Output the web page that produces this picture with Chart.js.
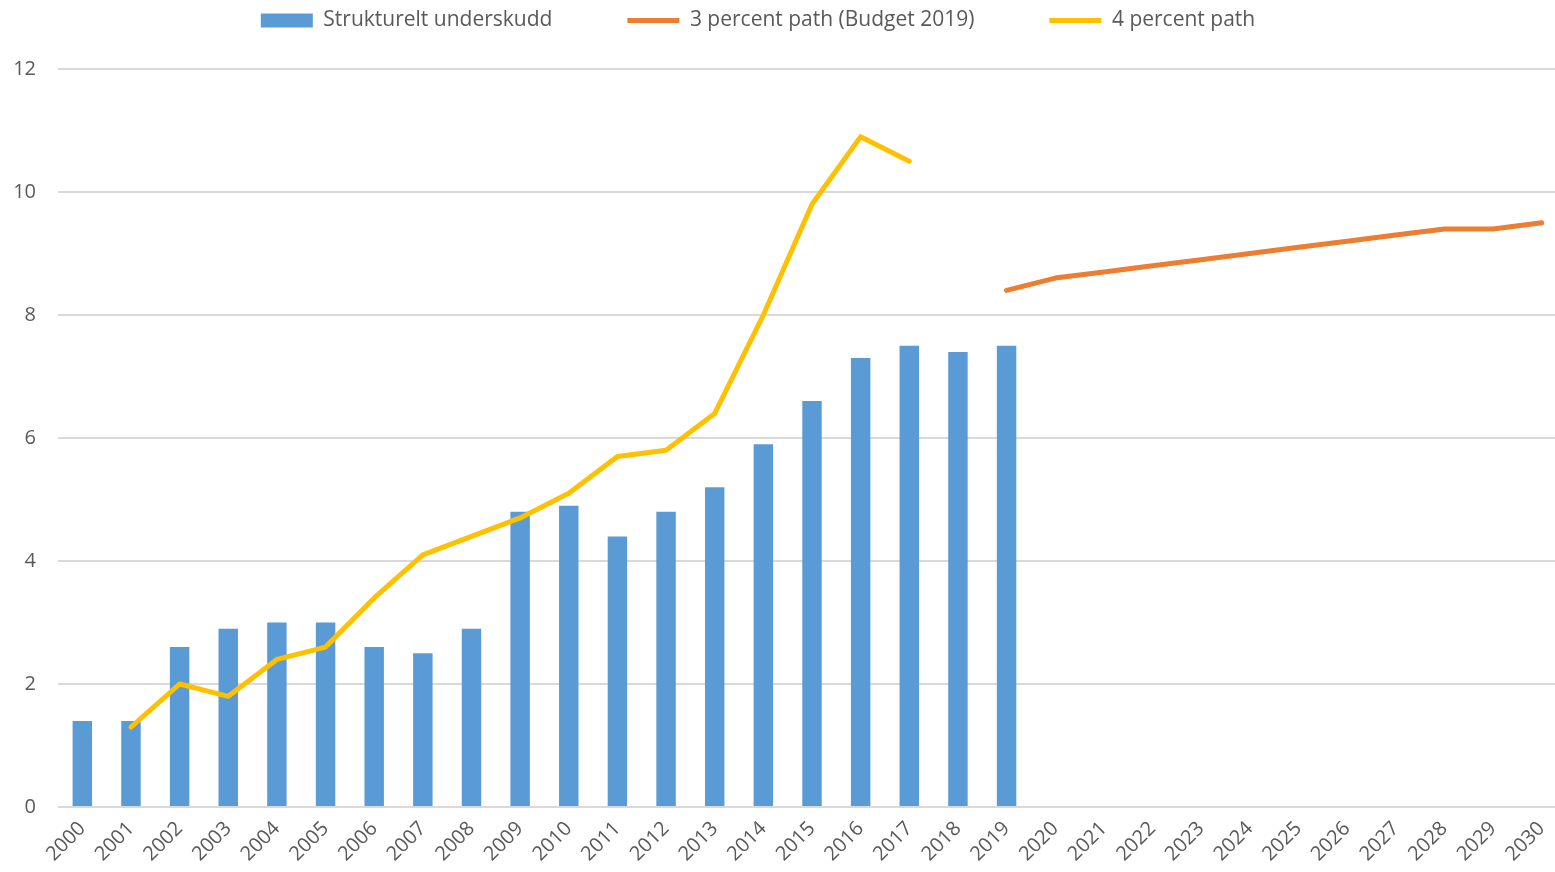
<!DOCTYPE html>
<html>
<head>
<meta charset="utf-8">
<script src="https://cdn.jsdelivr.net/npm/chart.js@4"></script>
<style>
  html, body { margin: 0; padding: 0; background: #fff; overflow: hidden; }
  #wrap { position: relative; width: 1566px; height: 872px; }
</style>
</head>
<body>
<div id="wrap"><canvas id="myChart"></canvas></div>
<script>
const years = ['2000', '2001', '2002', '2003', '2004', '2005', '2006', '2007', '2008', '2009',
    '2010', '2011', '2012', '2013', '2014', '2015', '2016', '2017', '2018', '2019',
    '2020', '2021', '2022', '2023', '2024', '2025', '2026', '2027', '2028', '2029', '2030'];

// Strukturelt underskudd (bars), 2000-2019
const underskudd = [1.4, 1.4, 2.6, 2.9, 3.0, 3.0, 2.6, 2.5, 2.9, 4.8,
    4.9, 4.4, 4.8, 5.2, 5.9, 6.6, 7.3, 7.5, 7.4, 7.5,
    null, null, null, null, null, null, null, null, null, null, null];

// 3 percent path (Budget 2019), 2019-2030
const path3 = [null, null, null, null, null, null, null, null, null, null,
    null, null, null, null, null, null, null, null, null, 8.4,
    8.6, 8.7, 8.8, 8.9, 9.0, 9.1, 9.2, 9.3, 9.4, 9.4, 9.5];

// 4 percent path, 2001-2017
const path4 = [null, 1.3, 2.0, 1.8, 2.4, 2.6, 3.4, 4.1, 4.4, 4.7,
    5.1, 5.7, 5.8, 6.4, 8.0, 9.8, 10.9, 10.5, null, null,
    null, null, null, null, null, null, null, null, null, null, null];

const yTicks = [0, 2, 4, 6, 8, 10, 12];

const textColor = '#595959';
const gridColor = '#d9d9d9';
const fontFamily = "'Open Sans', sans-serif";

// legend sits high above the plot with wide gaps between items
const legendPlacement = {
    id: 'legendPlacement',
    beforeInit(chart) {
        const fit = chart.legend.fit;
        chart.legend.fit = function () {
            fit.call(this);
            this.height = 69;
        };
    },
    afterLayout(chart) {
        // only move the top edge up, the legend clips to its own box
        const lg = chart.legend;
        lg.top -= 65;
        lg.left -= 25;
        lg.right -= 25;
    }
};

const ctx = document.getElementById('myChart');
const myChart = new Chart(ctx, {
    type: 'bar',
    data: {
        labels: years,
        datasets: [{
            type: 'bar',
            label: 'Strukturelt underskudd',
            data: underskudd,
            backgroundColor: '#5b9bd5',
            borderWidth: 0,
            barPercentage: 0.4,
            categoryPercentage: 1.0,
            pointStyle: 'rect',
            order: 3
        }, {
            type: 'line',
            label: '3 percent path (Budget 2019)',
            data: path3,
            borderColor: '#ed7d31',
            backgroundColor: '#ed7d31',
            borderWidth: 5,
            borderCapStyle: 'round',
            borderJoinStyle: 'round',
            pointRadius: 0,
            pointStyle: 'line',
            tension: 0,
            spanGaps: false,
            order: 2
        }, {
            type: 'line',
            label: '4 percent path',
            data: path4,
            borderColor: '#ffc000',
            backgroundColor: '#ffc000',
            borderWidth: 5,
            borderCapStyle: 'round',
            borderJoinStyle: 'round',
            pointRadius: 0,
            pointStyle: 'line',
            tension: 0,
            spanGaps: false,
            order: 1
        }]
    },
    options: {
        responsive: true,
        maintainAspectRatio: false,
        animation: false,
        layout: { padding: 0 },
        plugins: {
            legend: {
                position: 'top',
                labels: {
                    usePointStyle: true,
                    pointStyleWidth: 52,
                    boxHeight: 14,
                    padding: 75,
                    color: textColor,
                    font: { family: fontFamily, size: 21 },
                    sort: (a, b) => a.datasetIndex - b.datasetIndex
                }
            },
            tooltip: { enabled: false }
        },
        scales: {
            x: {
                grid: { display: false },
                border: { display: false },
                ticks: {
                    color: textColor,
                    font: { family: fontFamily, size: 20 },
                    maxRotation: 45,
                    minRotation: 45,
                    autoSkip: false,
                    padding: 2
                },
                afterFit: s => { s.height = 65; }
            },
            y: {
                min: 0,
                max: 12,
                afterBuildTicks: s => { s.ticks = yTicks.map(v => ({ value: v })); },
                grid: { color: gridColor, lineWidth: 2, drawTicks: false },
                border: { display: false },
                ticks: {
                    color: textColor,
                    font: { family: fontFamily, size: 20 },
                    padding: 22
                },
                afterFit: s => { s.width = 58; }
            }
        }
    },
    plugins: [legendPlacement]
});
</script>
</body>
</html>
